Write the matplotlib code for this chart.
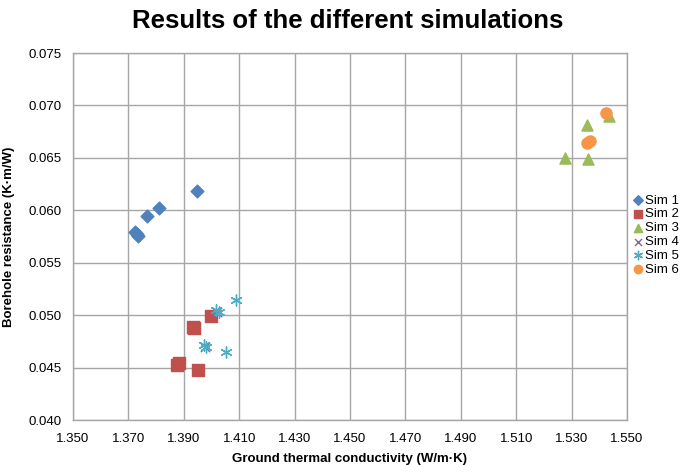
import matplotlib
matplotlib.use("Agg")
import matplotlib.pyplot as plt
from matplotlib.ticker import FixedLocator

plt.rcParams['font.family'] = ['Liberation Sans', 'DejaVu Sans']

title = "Results of the different simulations"
xlabel = "Ground thermal conductivity (W/m·K)"
ylabel = "Borehole resistance (K·m/W)"

sim1_x = [1.3724, 1.3736, 1.3730, 1.3768, 1.3809, 1.3946]
sim1_y = [0.05794, 0.05753, 0.05775, 0.0595, 0.0602, 0.0618]

sim2_x = [1.3999, 1.3932, 1.3936, 1.3875, 1.3884, 1.3951]
sim2_y = [0.0499, 0.0489, 0.0488, 0.0452, 0.0454, 0.04475]

sim3_x = [1.5276, 1.5361, 1.5357, 1.5434]
sim3_y = [0.06497, 0.0649, 0.06815, 0.0690]

sim4_x = [1.4020, 1.3975]
sim4_y = [0.0503, 0.0470]

sim5_x = [1.4088, 1.4017, 1.4027, 1.3973, 1.3981, 1.4053]
sim5_y = [0.0514, 0.0505, 0.0503, 0.0472, 0.0470, 0.0465]

sim6_x = [1.5424, 1.5357, 1.5366]
sim6_y = [0.06927, 0.0664, 0.06662]

x_ticks = [1.350, 1.370, 1.390, 1.410, 1.430, 1.450, 1.470, 1.490, 1.510, 1.530, 1.550]
y_ticks = [0.040, 0.045, 0.050, 0.055, 0.060, 0.065, 0.070, 0.075]

fig = plt.figure(figsize=(6.85, 4.65), dpi=100)
ax = fig.add_axes([73/685, 45/465, 554/685, 367/465])

grid_c = '#a6a6a6'
ax.set_xlim(x_ticks[0], x_ticks[-1])
ax.set_ylim(y_ticks[0], y_ticks[-1])
ax.xaxis.set_major_locator(FixedLocator(x_ticks))
ax.yaxis.set_major_locator(FixedLocator(y_ticks))
ax.set_xticklabels([f"{t:.3f}" for t in x_ticks])
ax.set_yticklabels([f"{t:.3f}" for t in y_ticks])
ax.grid(True, color=grid_c, linewidth=1.0)
ax.set_axisbelow(True)
for s in ax.spines.values():
    s.set_color(grid_c)
    s.set_linewidth(1.0)
ax.tick_params(axis='y', length=0, labelsize=9.5, pad=8)
ax.tick_params(axis='x', length=0, labelsize=9.5, pad=9)

ax.scatter(sim1_x, sim1_y, marker='D', s=42, color='#4F81BD', label='Sim 1', zorder=3)
ax.scatter(sim2_x, sim2_y, marker='s', s=64, color='#C0504D', label='Sim 2', zorder=3)
ax.scatter(sim3_x, sim3_y, marker='^', s=64, color='#9BBB59', label='Sim 3', zorder=3)
ax.scatter(sim4_x, sim4_y, marker='x', s=45, color='#8064A2', linewidths=1.0, label='Sim 4', zorder=3)
ax.scatter(sim5_x, sim5_y, marker=(6, 2, 0), s=64, color='#4BACC6', linewidths=1.0, label='Sim 5', zorder=3)
ax.scatter(sim6_x, sim6_y, marker='o', s=64, color='#F79646', label='Sim 6', zorder=3)

leg = ax.legend(loc='center left', bbox_to_anchor=(1.012, 0.504), frameon=False,
                fontsize=9.5, handletextpad=0.15, labelspacing=0.12,
                markerscale=0.75, handlelength=0.7, borderaxespad=0, borderpad=0)

ax.set_xlabel(xlabel, fontsize=9.5, fontweight='bold', labelpad=6)
ax.set_ylabel(ylabel, fontsize=9.5, fontweight='bold', labelpad=10)
fig.text(348/685, 1 - 21/465, title, ha='center', va='center', fontsize=18.5, fontweight='bold')

fig.savefig('out.png', dpi=100)
